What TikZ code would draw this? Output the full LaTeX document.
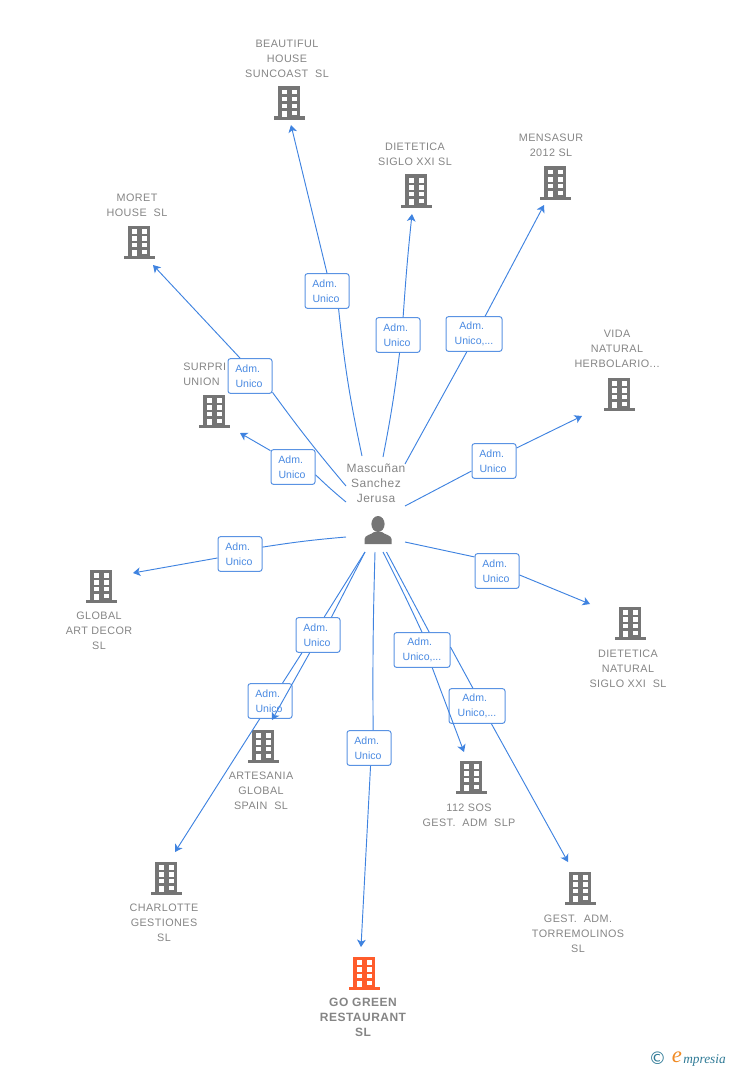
\documentclass[tikz,border=0pt]{standalone}
\usepackage{fontspec}
\setmainfont{Liberation Sans}
\newfontfamily\spacedfont[LetterSpace=4]{Liberation Sans}
\newfontfamily\logoserif{Liberation Serif}
\newfontfamily\logosym{DejaVu Sans}
\usetikzlibrary{arrows.meta}
\definecolor{edgeblue}{HTML}{3F83E0}
\definecolor{labelblue}{HTML}{4A8AE2}
\definecolor{boxblue}{HTML}{5A93E3}
\definecolor{txtgray}{HTML}{858585}
\definecolor{bldggray}{HTML}{757575}
\definecolor{bldgorange}{HTML}{FF5C2B}
\definecolor{logoteal}{HTML}{2F7A96}
\definecolor{logoorange}{HTML}{F08A24}
\newcommand{\roletext}{Adm.\hspace*{3.5pt}\\Unico\hspace*{1.5pt}}
\newcommand{\roletextb}{Adm.\hspace*{3.5pt}\\Unico,...}
\tikzset{
  x=0.75pt,y=-0.75pt,
  company/.style={align=center,text=txtgray,inner sep=0pt,font=\spacedfont\fontsize{8.1pt}{11.25pt}\selectfont},
  maincompany/.style={align=center,text=txtgray,inner sep=0pt,font=\spacedfont\bfseries\fontsize{9pt}{11.25pt}\selectfont},
  personname/.style={align=center,text=txtgray,inner sep=0pt,font=\spacedfont\fontsize{9pt}{11.25pt}\selectfont},
  role/.style={draw=boxblue,line width=0.75pt,rounded corners=1.8pt,fill=white,text=labelblue,align=center,
    inner sep=0pt,minimum height=26pt,font=\fontsize{7.9pt}{11.25pt}\selectfont},
  rolea/.style={role,minimum width=33pt},
  roleb/.style={role,minimum width=42pt},
  conn/.style={draw=edgeblue,line width=0.7pt},
  tip/.style={conn,-{Stealth[length=5.5pt,width=6.5pt,inset=1.5pt]}},
  bldgnode/.style={inner sep=0pt,minimum width=24pt,minimum height=27pt},
  personnode/.style={inner sep=0pt,minimum width=22pt,minimum height=22pt},
  pics/bldg/.style={code={
    \fill[#1] (-11,-16.5) rectangle (11,14);
    \fill[#1] (-15.5,13.5) rectangle (15.5,17);
    \fill[white] (-7.3,-13.3) rectangle (-2,-8.5);
    \fill[white] (2.7,-13.3) rectangle (8,-8.5);
    \fill[white] (-7.3,-5.7) rectangle (-2,-1.5);
    \fill[white] (2.7,-5.7) rectangle (8,-1.5);
    \fill[white] (-7.3,0.7) rectangle (-2,5);
    \fill[white] (2.7,0.7) rectangle (8,5);
    \fill[white] (-7.3,7.7) rectangle (-2,14);
    \fill[white] (2.7,7.7) rectangle (8,11.7);
  }},
  pics/personicon/.style={code={
    \fill[bldggray] (0,-7) ellipse (6.6 and 8);
    \fill[bldggray] (-13.5,13) -- (-13.5,8) .. controls (-13.5,4) and (-6,3.5) .. (-4,1) -- (4,1) .. controls (6,3.5) and (13.5,4) .. (13.5,8) -- (13.5,13) -- cycle;
  }}
}
\begin{document}
\begin{tikzpicture}
\useasboundingbox (0,0) rectangle (728,1070);

% building anchors and company names
\node[bldgnode] (bBeautiful) at (289,103) {}; \pic at (bBeautiful) {bldg=bldggray};
\node[company] (tBeautiful) at (287,59) {BEAUTIFUL\\HOUSE\\SUNCOAST\ \ SL};
\node[bldgnode] (bDietetica) at (416,191) {}; \pic at (bDietetica) {bldg=bldggray};
\node[company] (tDietetica) at (415,154.5) {DIETETICA\\SIGLO XXI SL};
\node[bldgnode] (bMensasur) at (555,183) {}; \pic at (bMensasur) {bldg=bldggray};
\node[company] (tMensasur) at (551,145.5) {MENSASUR\\2012 SL};
\node[bldgnode] (bMoret) at (139,242) {}; \pic at (bMoret) {bldg=bldggray};
\node[company] (tMoret) at (137,205.5) {MORET\\HOUSE\ \ SL};
\node[bldgnode] (bSurprise) at (214,411) {}; \pic at (bSurprise) {bldg=bldggray};
\node[company,anchor=west,align=left] (tSurprise) at (183,374.5) {SURPRI\\UNION};
\node[bldgnode] (bVida) at (619,394) {}; \pic at (bVida) {bldg=bldggray};
\node[company] (tVida) at (617,349) {VIDA\\NATURAL\\HERBOLARIO...};
\node[bldgnode] (bGlobal) at (101,586) {}; \pic at (bGlobal) {bldg=bldggray};
\node[company] (tGlobal) at (99,631) {GLOBAL\\ART DECOR\\SL};
\node[bldgnode] (bDietNat) at (630,623) {}; \pic at (bDietNat) {bldg=bldggray};
\node[company] (tDietNat) at (628,669) {DIETETICA\\NATURAL\\SIGLO XXI\ \ SL};
\node[bldgnode] (bArtesania) at (263,746) {}; \pic at (bArtesania) {bldg=bldggray};
\node[company] (tArtesania) at (261,791) {ARTESANIA\\GLOBAL\\SPAIN\ \ SL};
\node[bldgnode] (bSos) at (471,777) {}; \pic at (bSos) {bldg=bldggray};
\node[company] (tSos) at (469,815.5) {112 SOS\\GEST.\ \ ADM\ \ SLP};
\node[bldgnode] (bCharlotte) at (166,878) {}; \pic at (bCharlotte) {bldg=bldggray};
\node[company] (tCharlotte) at (164,923) {CHARLOTTE\\GESTIONES\\SL};
\node[bldgnode] (bTorre) at (580,888) {}; \pic at (bTorre) {bldg=bldggray};
\node[company] (tTorre) at (578,934) {GEST.\ \ ADM.\\TORREMOLINOS\\SL};
\node[bldgnode] (bGreen) at (364,973) {}; \pic at (bGreen) {bldg=bldgorange};
\node[maincompany] (tGreen) at (363,1017) {GO GREEN\\RESTAURANT\\SL};

% person
\node[personnode] (person) at (378,531) {}; \pic at (person) {personicon};
\node[personname] (tPerson) at (376,483) {Mascuñan\\Sanchez\\Jerusa};

% free connector ends
\coordinate (sBeautiful) at (362,456); \coordinate (eBeautiful) at (291,125);
\coordinate (sDietetica) at (383,457); \coordinate (eDietetica) at (412,214);
\coordinate (sMensasur) at (405,464); \coordinate (eMensasur) at (544,205);
\coordinate (sMoret) at (346,486); \coordinate (eMoret) at (153,265);
\coordinate (sSurprise) at (346,502); \coordinate (eSurprise) at (240,433);
\coordinate (sVida) at (405,506); \coordinate (eVida) at (582,416);
\coordinate (sGlobal) at (346,537); \coordinate (eGlobal) at (133,573);
\coordinate (sDietNat) at (405,542); \coordinate (eDietNat) at (590,604);
\coordinate (sArtesania) at (365,552); \coordinate (eArtesania) at (272,720);
\coordinate (sCharlotte) at (365,552); \coordinate (eCharlotte) at (175,852);
\coordinate (sSos) at (383,552); \coordinate (eSos) at (464,752);
\coordinate (sTorre) at (386.5,552); \coordinate (eTorre) at (568,862);
\coordinate (sGreen) at (375,552); \coordinate (eGreen) at (361,947);

% role boxes
\node[rolea] (lBeautiful) at (327,291) {\roletext};
\node[rolea] (lDietetica) at (398,335) {\roletext};
\node[roleb] (lMensasur) at (474,334) {\roletextb};
\node[rolea] (lMoret) at (250,376) {\roletext};
\node[rolea] (lSurprise) at (293,467) {\roletext};
\node[rolea] (lVida) at (494,461) {\roletext};
\node[rolea] (lGlobal) at (240,554) {\roletext};
\node[rolea] (lDietNat) at (497,571) {\roletext};
\node[rolea] (lArtesania) at (318,635) {\roletext};
\node[rolea] (lCharlotte) at (270,701) {\roletext};
\node[roleb] (lSos) at (422,650) {\roletextb};
\node[roleb] (lTorre) at (477,706) {\roletextb};
\node[rolea] (lGreen) at (369,748) {\roletext};

% connectors
\draw[conn] (sBeautiful) to[bend left=3] (lBeautiful.-57);
\draw[tip] (lBeautiful.90) -- (eBeautiful);
\draw[conn] (sDietetica) to[bend right=2] (lDietetica.-85);
\draw[tip] (lDietetica.74) to[bend left=1] (eDietetica);
\draw[conn] (sMensasur) -- (lMensasur.-112);
\draw[tip] (lMensasur.58) -- (eMensasur);
\draw[conn] (sMoret) to[bend left=2] (lMoret.-36);
\draw[tip] (lMoret.119) -- (eMoret);
\draw[conn] (sSurprise) to[bend left=2] (lSurprise.-19);
\draw[tip] (lSurprise.144) -- (eSurprise);
\draw[conn] (sVida) -- (lVida.204);
\draw[tip] (lVida.30) -- (eVida);
\draw[conn] (sGlobal) to[bend right=2] (lGlobal.17);
\draw[tip] (lGlobal.190) -- (eGlobal);
\draw[conn] (sDietNat) -- (lDietNat.148);
\draw[tip] (lDietNat.-10) -- (eDietNat);
\draw[conn] (sGreen) to[bend right=1] (lGreen.77);
\draw[tip] (lGreen.-85) -- (eGreen);
\draw[conn] (sSos) to[bend left=1] (lSos.90);
\draw[tip] (lSos.-60) -- (eSos);
\draw[conn] (sTorre) -- (lSos.68);
\draw[conn] (lSos.6) -- (lTorre.103);
\draw[tip] (lTorre.-51) -- (eTorre);

% the two left lines: one runs behind both boxes, the other over the lower box
\draw[conn] (sCharlotte) -- (lArtesania.71);
\draw[conn] (lArtesania.-132) -- (lCharlotte.55.6);
\draw[tip] (lCharlotte.-120) -- (eCharlotte);
\draw[conn] (sArtesania) -- (lArtesania.53);
\draw[tip] (lArtesania.-115) -- (eArtesania);

% logo
\node[inner sep=0pt,text=logoteal,font=\logosym\fontsize{13pt}{14pt}\selectfont] (logoC) at (657.5,1058) {©};
\node[inner sep=0pt,text=logoorange,font=\logoserif\itshape\fontsize{17pt}{17pt}\selectfont] (logoE) at (677,1057) {e};
\node[inner sep=0pt,anchor=west,text=logoteal,font=\logoserif\itshape\fontsize{10pt}{12pt}\selectfont] (logoT) at (683,1060) {mpresia};
\end{tikzpicture}
\end{document}
